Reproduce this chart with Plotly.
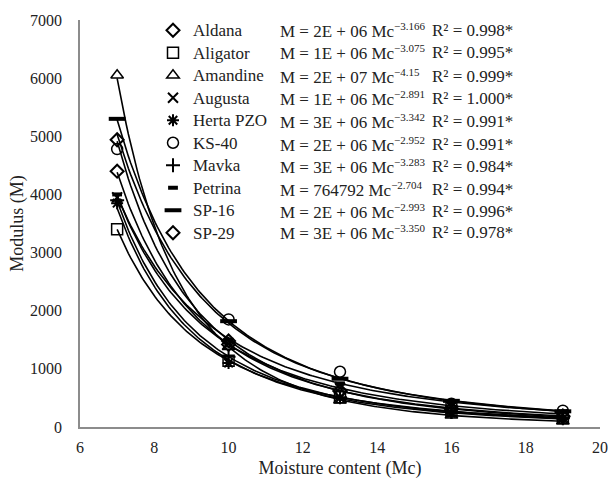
import numpy as np
import plotly.graph_objects as go

moisture = [7, 10, 13, 16, 19]
varieties = ["Aldana", "Aligator", "Amandine", "Augusta", "Herta PZO",
             "KS-40", "Mavka", "Petrina", "SP-16", "SP-29"]
modulus = {
    "Aldana":    [4400, 1420, 620, 320, 190],
    "Aligator":  [3400, 1140, 510, 270, 160],
    "Amandine":  [6050, 1380, 460, 200, 100],
    "Augusta":   [3950, 1430, 670, 370, 220],
    "Herta PZO": [3850, 1100, 500, 240, 140],
    "KS-40":     [4780, 1850, 950, 400, 280],
    "Mavka":     [3900, 1210, 510, 260, 150],
    "Petrina":   [4000, 1500, 750, 430, 270],
    "SP-16":     [5300, 1820, 830, 450, 270],
    "SP-29":     [4940, 1480, 620, 310, 175],
}
equations = [
    ("2E + 06", "3.166", "0.998*"),
    ("1E + 06", "3.075", "0.995*"),
    ("2E + 07", "4.15", "0.999*"),
    ("1E + 06", "2.891", "1.000*"),
    ("3E + 06", "3.342", "0.991*"),
    ("2E + 06", "2.952", "0.991*"),
    ("3E + 06", "3.283", "0.984*"),
    ("764792", "2.704", "0.994*"),
    ("2E + 06", "2.993", "0.996*"),
    ("3E + 06", "3.350", "0.978*"),
]
symbols = ["diamond-open", "square-open", "triangle-up-open", "x-thin-open",
           "asterisk-open", "circle-open", "cross-thin-open", "line-ew-open",
           "line-ew-open", "diamond-open"]
sizes = [10, 11, 11, 10, 10, 11, 10, 7, 12, 10]
widths = [2, 1.5, 1.5, 2, 2, 1.5, 2, 4, 4, 2]

FONT = "Liberation Serif"
fig = go.Figure()

xs = np.array(moisture, dtype=float)
grid = np.linspace(7, 19, 200)
for name in varieties:
    ys = np.array(modulus[name], dtype=float)
    b, lna = np.polyfit(np.log(xs), np.log(ys), 1)
    fig.add_trace(go.Scatter(x=grid, y=np.exp(lna) * grid ** b, mode="lines",
                             line=dict(color="black", width=1.6),
                             showlegend=False, hoverinfo="skip"))

for i, name in enumerate(varieties):
    fig.add_trace(go.Scatter(x=moisture, y=modulus[name], mode="markers",
                             name=f"<span style='font-size:17px'>{name}</span>",
                             marker=dict(symbol=symbols[i], size=sizes[i], color="black",
                                         line=dict(color="black", width=widths[i]))))

row_px = [31, 53, 76, 98, 121, 144, 166, 189, 211, 233]
top, bottom, left, right = 20, 427, 80, 600
for i, (coef, ex, r2) in enumerate(equations):
    yp = (bottom - row_px[i]) / (bottom - top)
    fig.add_annotation(xref="paper", yref="paper", x=(278 - left) / (right - left), y=yp,
                       xanchor="left", yanchor="middle", showarrow=False,
                       text=f"M = {coef} Mc<sup><span style='font-size:11px'>−{ex}</span></sup>",
                       font=dict(family=FONT, size=17, color="#222"))
    fig.add_annotation(xref="paper", yref="paper", x=(430 - left) / (right - left), y=yp,
                       xanchor="left", yanchor="middle", showarrow=False,
                       text=f"R² = {r2}",
                       font=dict(family=FONT, size=17, color="#222"))

fig.update_layout(
    width=608, height=479,
    margin=dict(l=left, r=608 - right, t=top, b=479 - bottom),
    paper_bgcolor="white", plot_bgcolor="white",
    font=dict(family=FONT, size=16, color="#222"),
    legend=dict(x=(153 - left) / (right - left), y=1 + 6 / 407, xanchor="left", yanchor="top",
                font=dict(family=FONT, size=15, color="#222"),
                bgcolor="rgba(0,0,0,0)", itemwidth=30),
    xaxis=dict(range=[6, 20], dtick=2, showgrid=False, zeroline=False, automargin=False,
               showline=True, linecolor="#8c8c8c", linewidth=1.5,
               ticks="outside", ticklen=5, tickcolor="rgba(0,0,0,0)",
               tickfont=dict(family=FONT, size=16),
               title=dict(text="Moisture content (Mc)", font=dict(family=FONT, size=18), standoff=6)),
    yaxis=dict(range=[0, 7000], dtick=1000, showgrid=False, zeroline=False, automargin=False,
               showline=True, linecolor="#8c8c8c", linewidth=1.5,
               ticks="outside", ticklen=13, tickcolor="rgba(0,0,0,0)",
               tickfont=dict(family=FONT, size=16),
               title=dict(text="Modulus (M)", font=dict(family=FONT, size=18), standoff=2)),
)
fig.write_html("out.html")
